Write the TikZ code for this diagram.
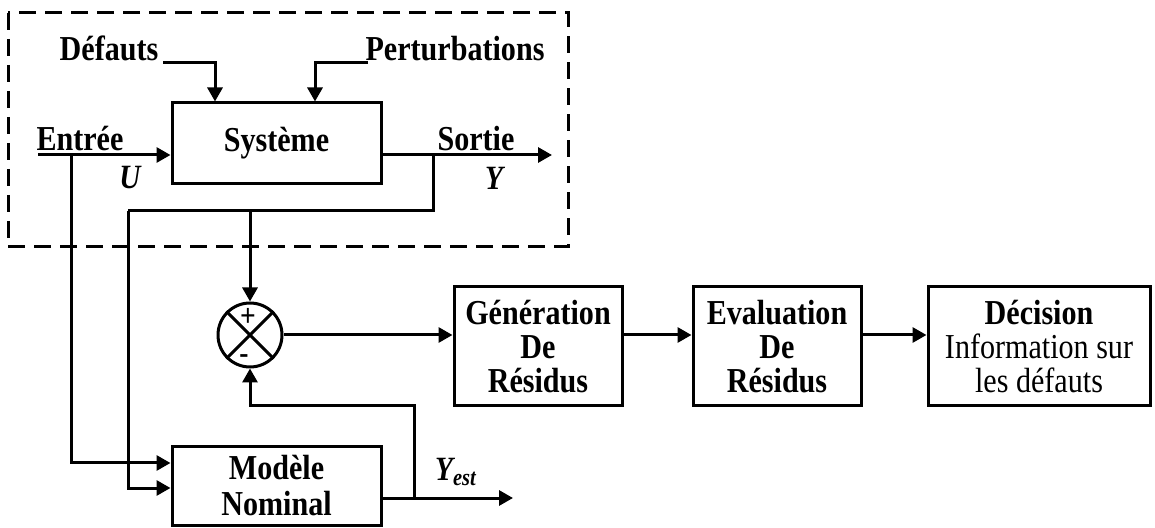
\documentclass[tikz,border=0pt]{standalone}
\usepackage{fontspec}
\setmainfont[FakeStretch=0.86]{Liberation Serif}
\usetikzlibrary{arrows.meta}
\begin{document}
\begin{tikzpicture}[x=0.5pt,y=-0.5pt,line width=1.5pt,
                    >={Triangle[length=7pt,width=7.5pt]},
                    bloc/.style = {draw,
                                align=center,
                                inner sep=0pt,
                                font=\fontsize{17.5}{17}\selectfont\bfseries},
                    lbl/.style = {font=\fontsize{17.5}{16.5}\selectfont\bfseries},
                    sig/.style = {font=\fontsize{17}{17}\selectfont\bfseries\itshape},
                    signe/.style = {inner sep=0pt,font=\fontsize{16}{16}\selectfont\bfseries}]
                    \useasboundingbox (0,0) rectangle (1155,528);
                    % Systeme surveille
                    \draw [dash pattern=on 8.5pt off 4.5pt] (8,13) rectangle (568,247);
                    \node[bloc,minimum width=104.5pt,minimum height=40.5pt] (sys) at (276.5,143.5) {Système};
                    % Modele
                    \node[bloc,minimum width=104.5pt,minimum height=39.5pt] (mod) at (276.5,486) {Modèle\\[1pt]Nominal};
                    % Comparateur
                    \node[draw,circle,inner sep=0pt,minimum size=32pt] (sum) at (250,335) {};
                    \draw (sum.north west) -- (sum.south east);
                    \draw (sum.north east) -- (sum.south west);
                    \node[signe] (plus) at ([xshift=-1pt,yshift=9pt]sum.center) {+};
                    \node[signe] (moins) at ([xshift=-3pt,yshift=-12pt]sum.center) {-};
                    % Residus et decision
                    \node[bloc,minimum width=84pt,minimum height=59.5pt] (gen) at (538,346.5) {Génération\\De\\Résidus};
                    \node[bloc,minimum width=84pt,minimum height=59.5pt] (eva) at (777,346.5) {Evaluation\\De\\Résidus};
                    \node[bloc,minimum width=111pt,minimum height=59.5pt,font=\fontsize{17.5}{17}\selectfont] (dec) at (1039,346.5) {\textbf{Décision}\\Information sur\\les défauts};
                    % Textes
                    \node[lbl,anchor=base] (def) at (109,61) {Défauts};
                    \node[lbl,anchor=base] (per) at (455,61) {Perturbations};
                    \node[lbl,anchor=base] (ent) at (80,151) {Entrée};
                    \node[lbl,anchor=base] (sor) at (476,151) {Sortie};
                    \node[sig] (u) at (130,178) {U};
                    \node[sig] (y) at (494,178) {Y};
                    \node[sig] (yest) at (456,472) {Y\textsubscript{est}};
                    % Points de connexion
                    \coordinate (dIn) at (163,63);
                    \coordinate (dA) at (215,63);
                    \coordinate (pIn) at (368,63);
                    \coordinate (pA) at (315,63);
                    \coordinate (uIn) at (38,155);
                    \coordinate (uB) at (71,155);
                    \coordinate (yB) at (433,155);
                    \coordinate (yOut) at (552,155);
                    \coordinate (yK) at (128,211);
                    \coordinate (eOut) at (513,498);
                    \coordinate (eB) at (414,498);
                    \coordinate (fb) at (414,406);
                    % Fleches
                    \draw[->] (dIn) -- (dA) -- (dA |- sys.north);
                    \draw[->] (pIn) -- (pA) -- (pA |- sys.north);
                    \draw[->] (uIn) -- (uIn -| sys.west);
                    \draw[->] (yB -| sys.east) -- (yOut);
                    \draw (yB) |- (yK);
                    \draw[->] (yK -| sum) -- (sum.north);
                    \draw[->] (uB) |- ([yshift=11.5pt]mod.west);
                    \draw[->] (yK) |- ([yshift=-1pt]mod.west);
                    \draw[->] (eOut -| mod.east) -- (eOut);
                    \draw[->] (eB) -- (fb) -| (sum.south);
                    \draw[->] (sum.east) -- (sum.east -| gen.west);
                    \draw[->] (sum.east -| gen.east) -- (sum.east -| eva.west);
                    \draw[->] (sum.east -| eva.east) -- (sum.east -| dec.west);
                \end{tikzpicture}
\end{document}
